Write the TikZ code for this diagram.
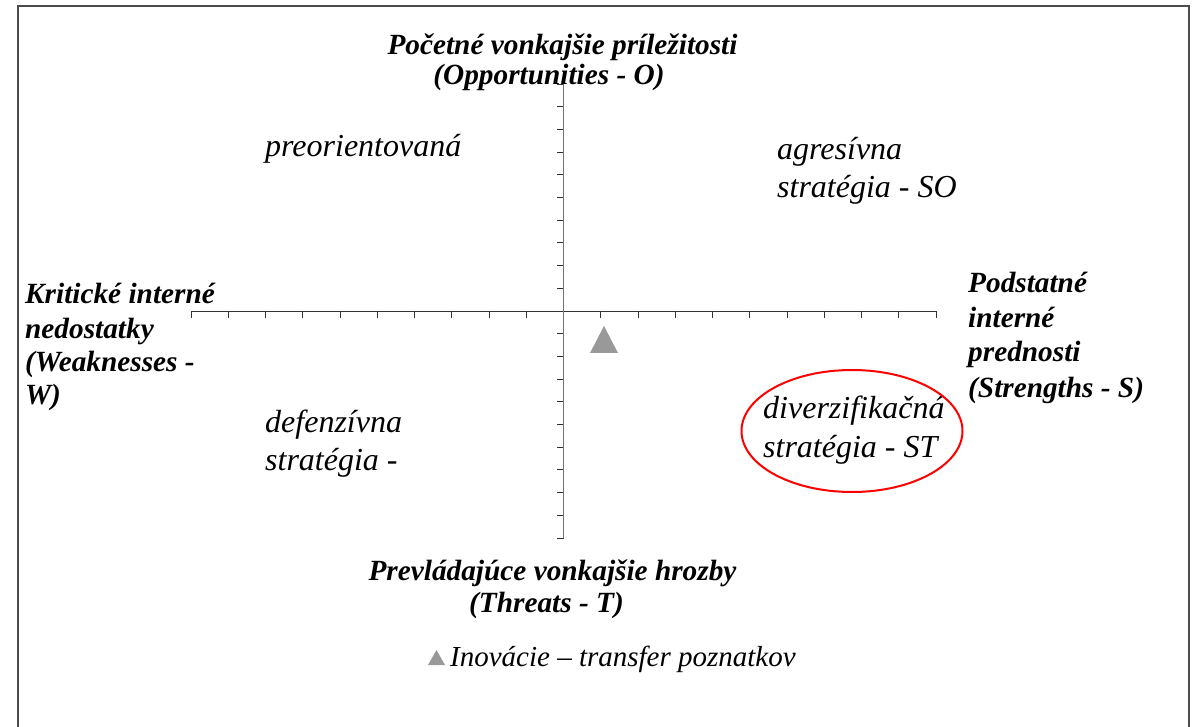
\documentclass[tikz,border=0pt]{standalone}
\usepackage{fontspec}
\setmainfont{Liberation Serif}
\begin{document}
\begin{tikzpicture}[x=1pt,y=-1pt,
  axislbl/.style={font=\fontsize{29.3}{32}\selectfont\bfseries\itshape, inner sep=0pt},
  quadlbl/.style={font=\fontsize{32}{38}\selectfont\itshape, inner sep=0pt, anchor=base west},
  legendlbl/.style={font=\fontsize{29}{34}\selectfont\itshape, inner sep=0pt, anchor=base west},
  tickline/.style={black!80, line width=0.9pt},
  marker/.style={fill=black!40}
]
\useasboundingbox (0,0) rectangle (1192,727);
% frame
\draw[black!70, line width=2pt] (18,740) -- (18,6) -- (1189,6) -- (1189,740);
% axes
\coordinate (hl) at (191,311);
\coordinate (hr) at (936,311);
\coordinate (vt) at (563.5,84);
\coordinate (vb) at (563.5,538);
\draw[tickline] (hl) -- (hr);
\foreach \i in {0,...,20} {
  \draw[tickline] (191+\i*37.25,311) -- ++(0,7);
}
\foreach \i in {0,...,20} {
  \draw[tickline] (563.5,84+\i*22.7) -- ++(-7,0);
}
\draw[black!55, line width=1.4pt] (vt) -- (vb);
% axis labels
\node[axislbl, anchor=base] (o1) at (562.5,55) {Početné vonkajšie príležitosti};
\node[axislbl, anchor=base] (o2) at (549,85) {(Opportunities - O)};
\node[axislbl, anchor=base] (t1) at (552.5,580) {Prevládajúce vonkajšie hrozby};
\node[axislbl, anchor=base] (t2) at (546.5,612) {(Threats - T)};
\node[axislbl, anchor=base west] (w1) at (25,304) {Kritické interné};
\node[axislbl, anchor=base west] (w2) at (25,339) {nedostatky};
\node[axislbl, anchor=base west] (w3) at (25,372) {(Weaknesses -};
\node[axislbl, anchor=base west] (w4) at (25,405) {W)};
\node[axislbl, anchor=base west] (s1) at (968,293) {Podstatné};
\node[axislbl, anchor=base west] (s2) at (968,328) {interné};
\node[axislbl, anchor=base west] (s3) at (968,362) {prednosti};
\node[axislbl, anchor=base west] (s4) at (968,397) {(Strengths - S)};
% quadrant labels
\node[quadlbl] (wo) at (265,157) {preorientovaná};
\node[quadlbl] (so1) at (777,160) {agresívna};
\node[quadlbl] (so2) at (777,198) {stratégia - SO};
\node[quadlbl] (wt1) at (265,432) {defenzívna};
\node[quadlbl] (wt2) at (265,470) {stratégia -};
\node[quadlbl] (st1) at (763,418) {diverzifikačná};
\node[quadlbl] (st2) at (763,457) {stratégia - ST};
\draw[red, line width=2pt] (852,431) ellipse [x radius=110.5, y radius=61];
% marker
\fill[marker] (604,326) -- (618,353) -- (590,353) -- cycle;
% legend
\fill[marker] (436.5,650) -- (445,665) -- (428,665) -- cycle;
\node[legendlbl] (leg) at (450,666) {Inovácie – transfer poznatkov};
\end{tikzpicture}
\end{document}
